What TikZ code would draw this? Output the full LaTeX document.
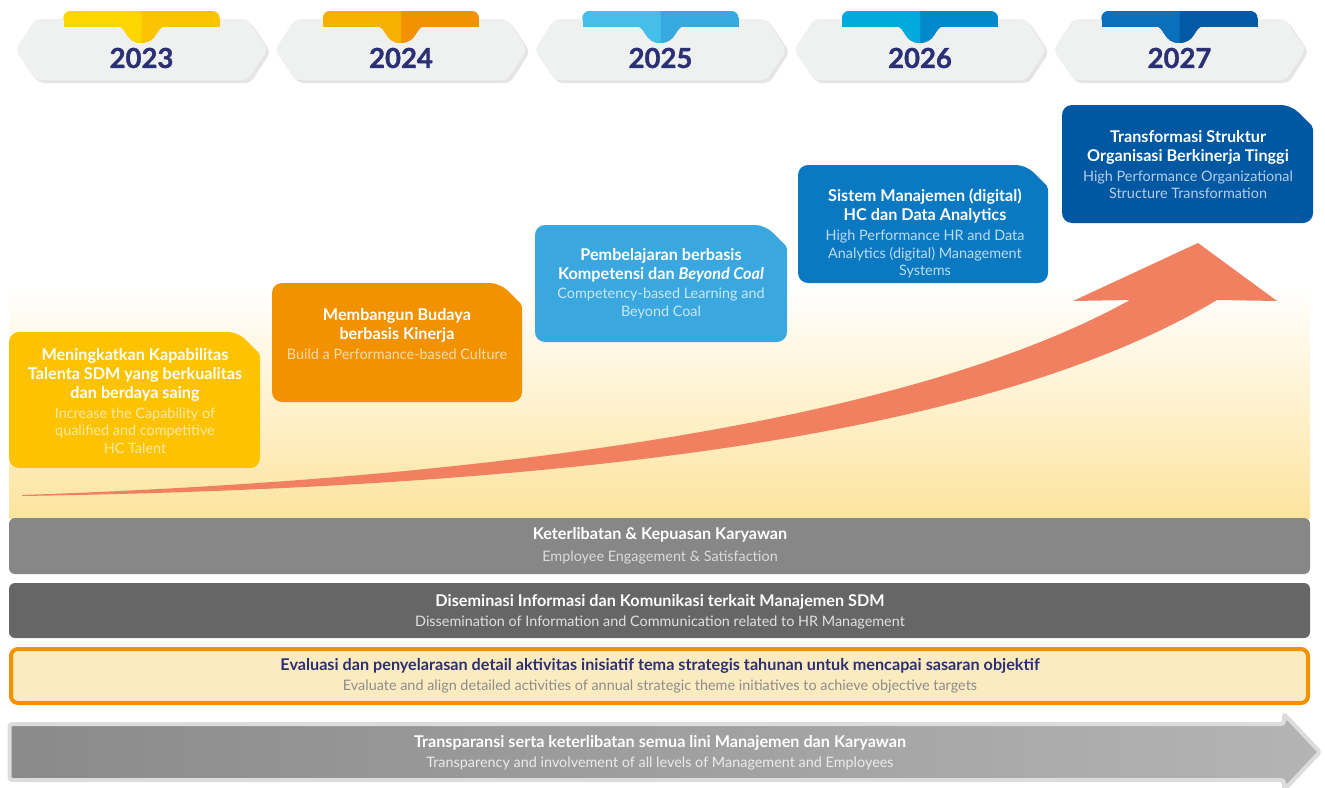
\documentclass[tikz,border=0pt]{standalone}
\usepackage{fontspec}
\setmainfont{Lato}
\usetikzlibrary{positioning,calc}

\definecolor{navy}{HTML}{2B2F73}
\definecolor{tabgrey}{HTML}{EFF0F0}
\definecolor{glow}{HTML}{FDE49E}
\definecolor{swoosh}{HTML}{F0805F}
% year tabs
\definecolor{t23a}{HTML}{FFD500}\definecolor{t23b}{HTML}{FCC300}
\definecolor{t24a}{HTML}{F6B000}\definecolor{t24b}{HTML}{F39200}
\definecolor{t25a}{HTML}{45BFEA}\definecolor{t25b}{HTML}{37A8E0}
\definecolor{t26a}{HTML}{00AADC}\definecolor{t26b}{HTML}{0088CC}
\definecolor{t27a}{HTML}{0A70BE}\definecolor{t27b}{HTML}{005AA6}
% cards
\definecolor{c23}{HTML}{FDC300}\definecolor{s23}{HTML}{FFE9A6}
\definecolor{c24}{HTML}{F39200}\definecolor{s24}{HTML}{FFDCA6}
\definecolor{c25}{HTML}{3AA8DF}\definecolor{s25}{HTML}{C9E7F8}
\definecolor{c26}{HTML}{0B79C1}\definecolor{s26}{HTML}{BCDCF2}
\definecolor{c27}{HTML}{0057A2}\definecolor{s27}{HTML}{B9CDE8}
% bands
\definecolor{band1}{HTML}{878787}
\definecolor{band2}{HTML}{666666}
\definecolor{pale}{HTML}{FDEBC0}
\definecolor{orng}{HTML}{F39200}
\definecolor{arrowL}{HTML}{8A8A8A}
\definecolor{arrowR}{HTML}{B4B4B4}
\definecolor{arrowrim}{HTML}{DCDCDC}

\tikzset{
  yearlbl/.style={font=\fontsize{27.5}{30}\selectfont\bfseries\addfontfeatures{FakeBold=1.2}, text=navy, inner sep=0pt},
  cardtitle/.style={font=\fontsize{16.2}{19}\selectfont\bfseries, text=white, align=center, inner sep=0pt, anchor=north},
  cardsub/.style={font=\fontsize{14.4}{17.5}\selectfont, align=center, inner sep=0pt},
  bandtitle/.style={font=\fontsize{16.2}{18}\selectfont\bfseries, inner sep=0pt, anchor=base},
  bandsub/.style={font=\fontsize{14.4}{16}\selectfont, inner sep=0pt, anchor=base},
}

\begin{document}
\begin{tikzpicture}[x=1pt,y=-1pt]
\useasboundingbox (0,0) rectangle (1325,787);
\fill[white] (0,0) rectangle (1325,787);

% background glow behind the steps
\shade[top color=white, bottom color=glow] (9,285) rectangle (1310,518);

% year tabs
\foreach \i in {0,...,4}{
  \pgfmathsetmacro{\cx}{141.5+259.5*\i}
  \fill[black!10, rounded corners=5pt] (\cx-122,52) -- (\cx-103,22) -- (\cx+109,22) -- (\cx+129,52) -- (\cx+109,83) -- (\cx-103,83) -- cycle;
  \fill[tabgrey, rounded corners=5pt] (\cx-126,50) -- (\cx-106,19) -- (\cx+106,19) -- (\cx+126,50) -- (\cx+106,80) -- (\cx-106,80) -- cycle;
}
\foreach \la/\lb [count=\i from 0] in {t23a/t23b,t24a/t24b,t25a/t25b,t26a/t26b,t27a/t27b}{
  \pgfmathsetmacro{\cx}{141.5+259.5*\i}
  \fill[\lb] (\cx-25,26) .. controls (\cx-14,26) and (\cx-17,43) .. (\cx,43) .. controls (\cx+17,43) and (\cx+14,26) .. (\cx+25,26) -- cycle;
  \fill[\lb, rounded corners=7pt] (\cx-78,11) rectangle (\cx+78,25);
  \fill[\lb] (\cx-78,18) rectangle (\cx+78,27);
  \begin{scope}
    \clip (\cx-90,0) rectangle (\cx,50);
    \fill[\la] (\cx-25,26) .. controls (\cx-14,26) and (\cx-17,43) .. (\cx,43) .. controls (\cx+17,43) and (\cx+14,26) .. (\cx+25,26) -- cycle;
    \fill[\la, rounded corners=7pt] (\cx-78,11) rectangle (\cx+78,25);
    \fill[\la] (\cx-78,18) rectangle (\cx+78,27);
  \end{scope}
}
\foreach \yr [count=\i from 0] in {2023,2024,2025,2026,2027}{
  \pgfmathsetmacro{\cx}{141.5+259.5*\i}
  \node[yearlbl] (y\yr) at (\cx,58) {\yr};
}

% step cards
\foreach \xa/\ya/\xb/\yb/\cc in {9/332/260/468/c23,272/283/522/402/c24,535/225/787/342/c25,798/165/1048/283/c26,1062/105/1313/223/c27}{
  \fill[\cc, rounded corners=10pt] (\xa,\yb) -- (\xa,\ya) -- (\xb-22,\ya) [rounded corners=2pt] -- (\xb,\ya+22) [rounded corners=10pt] -- (\xb,\yb) -- cycle;
}

\node[cardtitle] (t23) at (135,348) {Meningkatkan Kapabilitas\\Talenta SDM yang berkualitas\\dan berdaya saing};
\node[cardsub, text=s23] (s23) [below=6pt of t23] {Increase the Capability of\\qualified and competitive\\HC Talent};
\node[cardtitle] (t24) at (397,308) {Membangun Budaya\\berbasis Kinerja};
\node[cardsub, text=s24] (s24) [below=6pt of t24] {Build a Performance-based Culture};
\node[cardtitle] (t25) at (661,248) {Pembelajaran berbasis\\Kompetensi dan \textit{Beyond Coal}};
\node[cardsub, text=s25] (s25) [below=6pt of t25] {Competency-based Learning and\\Beyond Coal};
\node[cardtitle] (t26) at (925,189) {Sistem Manajemen (digital)\\HC dan Data Analytics};
\node[cardsub, text=s26] (s26) [below=6pt of t26] {High Performance HR and Data\\Analytics (digital) Management\\Systems};
\node[cardtitle] (t27) at (1188,130) {Transformasi Struktur\\Organisasi Berkinerja Tinggi};
\node[cardsub, text=s27] (s27) [below=6pt of t27] {High Performance Organizational\\Structure Transformation};

% growth arrow
\fill[swoosh] (22,495) .. controls (600,475) and (950,400) .. (1130,300) -- (1073,301) -- (1198,243) -- (1277,301) -- (1217,300) .. controls (1000,430) and (600,487) .. (22,496) -- cycle;

% enabler bands
\fill[band1, rounded corners=6pt] (9,518) rectangle (1310,574);
\node[bandtitle, text=white] (b1) at (660,539.5) {Keterlibatan \& Kepuasan Karyawan};
\node[bandsub, text=black!14] (b1s) at (660,561) {Employee Engagement \& Satisfaction};

\fill[band2, rounded corners=6pt] (9,583) rectangle (1310,638);
\node[bandtitle, text=white] (b2) at (660,606.5) {Diseminasi Informasi dan Komunikasi terkait Manajemen SDM};
\node[bandsub, text=black!12] (b2s) at (660,626) {Dissemination of Information and Communication related to HR Management};

\draw[orng, fill=pale, line width=4pt, rounded corners=7pt] (11,649) rectangle (1308,703);
\node[bandtitle, text=navy] (b3) at (660,670.5) {Evaluasi dan penyelarasan detail aktivitas inisiatif tema strategis tahunan untuk mencapai sasaran objektif};
\node[bandsub, text=black!45] (b3s) at (660,690) {Evaluate and align detailed activities of annual strategic theme initiatives to achieve objective targets};

\shadedraw[left color=arrowL, right color=arrowR, draw=arrowrim, line width=4pt, rounded corners=3pt] (9.5,724) -- (1284,724) -- (1284,714) -- (1320,752) -- (1284,790) -- (1284,780) -- (9.5,780) -- cycle;
\node[bandtitle, text=white] (b4) at (660,747.5) {Transparansi serta keterlibatan semua lini Manajemen dan Karyawan};
\node[bandsub, text=black!8] (b4s) at (660,767) {Transparency and involvement of all levels of Management and Employees};
\end{tikzpicture}
\end{document}
